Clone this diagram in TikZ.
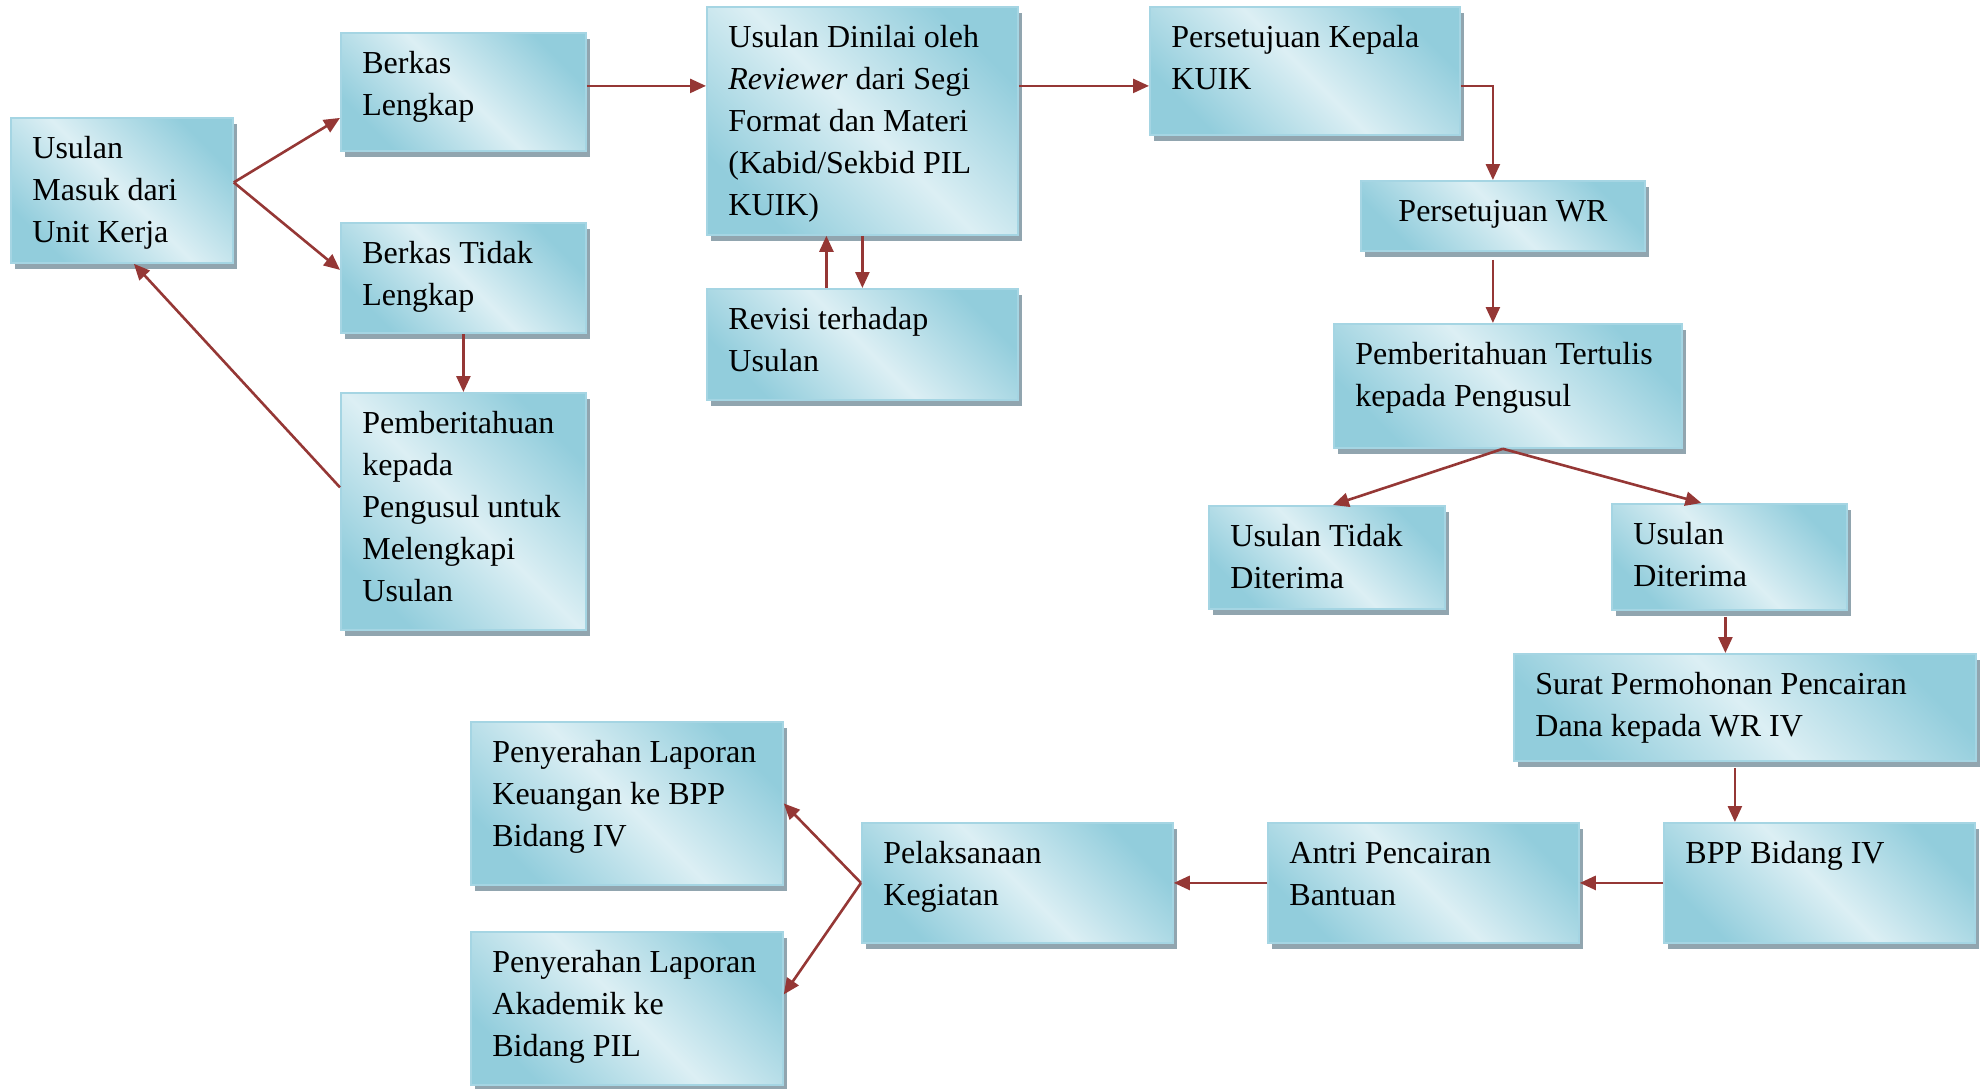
\documentclass[tikz,border=0pt]{standalone}
\usepackage{fontspec}
\setmainfont{Liberation Serif}
\usepackage{tikz}
\usetikzlibrary{shadows}
\usetikzlibrary{arrows.meta}
\usetikzlibrary{positioning}

\definecolor{boxdark}{HTML}{92CDDC}
\definecolor{boxlight}{HTML}{DCEFF4}
\definecolor{boxline}{HTML}{A5D5E3}
\definecolor{boxshadow}{HTML}{91A5AF}
\definecolor{flowred}{HTML}{953735}

\tikzset{
  stage/.style={anchor=north west, rectangle, draw=boxline, line width=0.9pt,
    top color=boxdark, bottom color=boxdark, middle color=boxlight, shading angle=-45,
    drop shadow={shadow xshift=1.8pt, shadow yshift=-3pt, fill=boxshadow, opacity=1}},
  txt/.style={anchor=north west, inner xsep=11pt, inner ysep=6pt, font=\fontsize{16}{21}\selectfont},
  flow/.style={draw=flowred, line width=1.3pt, -{Triangle[length=8pt, width=7pt]}}
}

\begin{document}
\begin{tikzpicture}[x=0.5pt, y=-0.5pt]
    \useasboundingbox (0,0) rectangle (1988,1088);

    % kolom kiri
    \node (masuk) [stage, minimum width=111pt, minimum height=72.5pt,
      label={[txt]north west:{\begin{tabular}{@{}l@{}}Usulan\\ Masuk dari\\ Unit Kerja\end{tabular}}}] at (10,117) {};
    \node (lengkap) [stage, minimum width=122.5pt, minimum height=59pt,
      label={[txt]north west:{\begin{tabular}{@{}l@{}}Berkas\\ Lengkap\end{tabular}}}] at (340,32) {};
    \node (tidaklengkap) [stage, minimum width=122.5pt, minimum height=55pt,
      label={[txt]north west:{\begin{tabular}{@{}l@{}}Berkas Tidak\\ Lengkap\end{tabular}}}] at (340,222) {};
    \node (melengkapi) [stage, minimum width=122.5pt, minimum height=118.5pt,
      label={[txt]north west:{\begin{tabular}{@{}l@{}}Pemberitahuan\\ kepada\\ Pengusul untuk\\ Melengkapi\\ Usulan\end{tabular}}}] at (340,392) {};

    % penilaian
    \node (dinilai) [stage, minimum width=155.5pt, minimum height=114pt,
      label={[txt]north west:{\begin{tabular}{@{}l@{}}Usulan Dinilai oleh\\ \textit{Reviewer} dari Segi\\ Format dan Materi\\ (Kabid/Sekbid PIL\\ KUIK)\end{tabular}}}] at (706,6) {};
    \node (revisi) [stage, minimum width=155.5pt, minimum height=55.5pt,
      label={[txt]north west:{\begin{tabular}{@{}l@{}}Revisi terhadap\\ Usulan\end{tabular}}}] at (706,288) {};

    % persetujuan
    \node (kepala) [stage, minimum width=155pt, minimum height=64pt,
      label={[txt]north west:{\begin{tabular}{@{}l@{}}Persetujuan Kepala\\ KUIK\end{tabular}}}] at (1149,6) {};
    \node (wr) [stage, minimum width=142pt, minimum height=35pt,
      label={[txt, anchor=north]north:{\begin{tabular}{@{}c@{}}Persetujuan WR\end{tabular}}}] at (1360,180) {};
    \node (tertulis) [stage, minimum width=174pt, minimum height=62pt,
      label={[txt]north west:{\begin{tabular}{@{}l@{}}Pemberitahuan Tertulis\\ kepada Pengusul\end{tabular}}}] at (1333,323) {};
    \node (ditolak) [stage, minimum width=118pt, minimum height=51.5pt,
      label={[txt]north west:{\begin{tabular}{@{}l@{}}Usulan Tidak\\ Diterima\end{tabular}}}] at (1208,505) {};
    \node (diterima) [stage, minimum width=117.5pt, minimum height=53pt,
      label={[txt]north west:{\begin{tabular}{@{}l@{}}Usulan\\ Diterima\end{tabular}}}] at (1611,503) {};

    % pencairan
    \node (surat) [stage, minimum width=231pt, minimum height=53.5pt,
      label={[txt]north west:{\begin{tabular}{@{}l@{}}Surat Permohonan Pencairan\\ Dana kepada WR IV\end{tabular}}}] at (1513,653) {};
    \node (bpp) [stage, minimum width=155.5pt, minimum height=60pt,
      label={[txt]north west:{\begin{tabular}{@{}l@{}}BPP Bidang IV\end{tabular}}}] at (1663,822) {};
    \node (antri) [stage, minimum width=155.5pt, minimum height=60pt,
      label={[txt]north west:{\begin{tabular}{@{}l@{}}Antri Pencairan\\ Bantuan\end{tabular}}}] at (1267,822) {};
    \node (kegiatan) [stage, minimum width=155.5pt, minimum height=60pt,
      label={[txt]north west:{\begin{tabular}{@{}l@{}}Pelaksanaan\\ Kegiatan\end{tabular}}}] at (861,822) {};
    \node (keuangan) [stage, minimum width=156pt, minimum height=81.5pt,
      label={[txt]north west:{\begin{tabular}{@{}l@{}}Penyerahan Laporan\\ Keuangan ke BPP\\ Bidang IV\end{tabular}}}] at (470,721) {};
    \node (akademik) [stage, minimum width=156pt, minimum height=76.5pt,
      label={[txt]north west:{\begin{tabular}{@{}l@{}}Penyerahan Laporan\\ Akademik ke\\ Bidang PIL\end{tabular}}}] at (470,931) {};

    % panah
    \draw[flow] ([yshift=4pt]masuk.east) -- ([yshift=-13pt]lengkap.west);
    \draw[flow] ([yshift=4pt]masuk.east) -- ([yshift=4pt]tidaklengkap.west);
    \draw[flow] ([yshift=3pt]lengkap.east) -- ([yshift=3pt]lengkap.east -| dinilai.west);
    \draw[flow] (tidaklengkap.south) -- (melengkapi.north);
    \draw[flow] ([yshift=12pt]melengkapi.west) -- ([xshift=6pt]masuk.south);
    \draw[flow] ([xshift=-18pt]revisi.north) -- ([xshift=-18pt]dinilai.south);
    \draw[flow] (dinilai.south) -- (revisi.north);
    \draw[flow] ([yshift=-7.5pt]kepala.west -| dinilai.east) -- ([yshift=-7.5pt]kepala.west);
    \draw[flow] ([yshift=-7.5pt]kepala.east) -| ([xshift=-5pt]wr.north);
    \draw[flow] ([xshift=-5pt, yshift=-4pt]wr.south) -- ([xshift=-5pt]wr.south |- tertulis.north);
    \draw[flow] ([xshift=-2.5pt]tertulis.south) -- ([xshift=3pt]ditolak.north);
    \draw[flow] ([xshift=-2.5pt]tertulis.south) -- ([xshift=-14pt]diterima.north);
    \draw[flow] ([xshift=-2pt, yshift=-3pt]diterima.south) -- ([xshift=-2pt]diterima.south |- surat.north);
    \draw[flow] ([xshift=-5pt, yshift=-3pt]surat.south) -- ([xshift=-5pt]surat.south |- bpp.north);
    \draw[flow] (bpp.west) -- (antri.east);
    \draw[flow] (antri.west) -- (kegiatan.east);
    \draw[flow] (kegiatan.west) -- (keuangan.east);
    \draw[flow] (kegiatan.west) -- ([yshift=7pt]akademik.east);
\end{tikzpicture}
\end{document}
